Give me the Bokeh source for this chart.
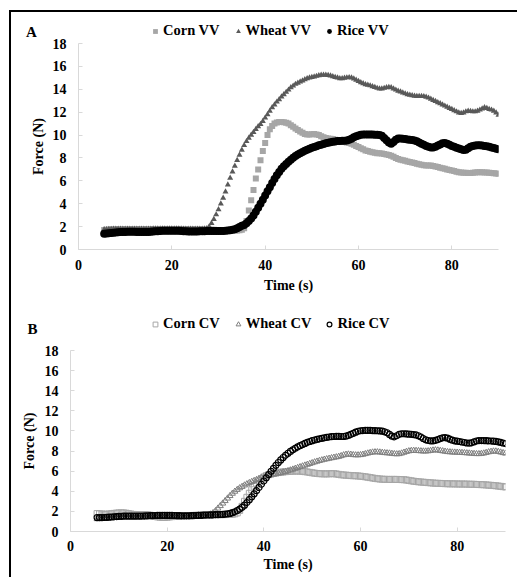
from bokeh.plotting import figure
from bokeh.models import Legend, LegendItem, Label, Range1d, FixedTicker
from bokeh.layouts import column, row
from bokeh.embed import file_html
from bokeh.resources import INLINE

# sampling times (s): every 0.5 s from 5.5 to 90
time_s = [5.5 + 0.5 * i for i in range(170)]

x_ticks = [0, 20, 40, 60, 80]
y_ticks = [0, 2, 4, 6, 8, 10, 12, 14, 16, 18]

# ---------------- Panel A (VV) ----------------
corn_vv = [
    1.70, 1.72, 1.74, 1.75, 1.76, 1.77, 1.77, 1.78, 1.78, 1.78,
    1.78, 1.78, 1.77, 1.77, 1.76, 1.76, 1.77, 1.77, 1.78, 1.78,
    1.78, 1.79, 1.79, 1.80, 1.80, 1.80, 1.80, 1.80, 1.79, 1.79,
    1.78, 1.78, 1.77, 1.77, 1.76, 1.76, 1.75, 1.75, 1.74, 1.74,
    1.74, 1.74, 1.74, 1.74, 1.73, 1.73, 1.72, 1.72, 1.71, 1.70,
    1.70, 1.69, 1.68, 1.67, 1.66, 1.65, 1.65, 1.66, 1.68, 1.72,
    1.85, 2.50, 3.40, 4.30, 5.20, 6.20, 7.00, 7.80, 8.60, 9.30,
    10.00, 10.50, 10.80, 11.00, 11.10, 11.15, 11.15, 11.12, 11.08, 11.02,
    10.85, 10.72, 10.58, 10.45, 10.32, 10.20, 10.10, 10.05, 10.05, 10.08,
    10.10, 10.05, 10.00, 9.90, 9.80, 9.75, 9.70, 9.68, 9.65, 9.60,
    9.55, 9.50, 9.45, 9.40, 9.35, 9.30, 9.25, 9.15, 9.05, 8.95,
    8.85, 8.75, 8.65, 8.60, 8.55, 8.50, 8.45, 8.42, 8.40, 8.38,
    8.35, 8.30, 8.25, 8.20, 8.10, 8.00, 7.90, 7.85, 7.80, 7.75,
    7.70, 7.65, 7.60, 7.55, 7.50, 7.45, 7.40, 7.37, 7.35, 7.35,
    7.33, 7.30, 7.25, 7.20, 7.15, 7.10, 7.05, 7.00, 6.95, 6.90,
    6.85, 6.80, 6.76, 6.72, 6.70, 6.70, 6.68, 6.68, 6.70, 6.72,
    6.74, 6.76, 6.75, 6.73, 6.72, 6.70, 6.68, 6.66, 6.65, 6.62,
]

wheat_vv = [
    1.75, 1.76, 1.77, 1.78, 1.79, 1.80, 1.80, 1.80, 1.80, 1.80,
    1.80, 1.80, 1.80, 1.79, 1.79, 1.79, 1.79, 1.80, 1.80, 1.80,
    1.80, 1.81, 1.81, 1.81, 1.81, 1.82, 1.82, 1.82, 1.82, 1.82,
    1.82, 1.82, 1.81, 1.81, 1.80, 1.80, 1.80, 1.80, 1.80, 1.80,
    1.80, 1.80, 1.80, 1.81, 1.84, 2.00, 2.30, 2.65, 3.05, 3.50,
    4.00, 4.50, 5.05, 5.65, 6.25, 6.80, 7.30, 7.80, 8.25, 8.70,
    9.10, 9.45, 9.75, 10.00, 10.25, 10.50, 10.75, 10.95, 11.20, 11.50,
    11.80, 12.10, 12.40, 12.65, 12.90, 13.10, 13.35, 13.55, 13.75, 13.95,
    14.15, 14.30, 14.45, 14.55, 14.65, 14.75, 14.85, 14.95, 15.00, 15.05,
    15.10, 15.15, 15.20, 15.25, 15.25, 15.25, 15.22, 15.18, 15.12, 15.05,
    15.00, 14.95, 14.95, 14.98, 15.02, 15.04, 15.00, 14.92, 14.82, 14.70,
    14.60, 14.50, 14.42, 14.38, 14.32, 14.25, 14.18, 14.10, 14.05, 14.05,
    14.10, 14.15, 14.18, 14.15, 14.05, 13.95, 13.85, 13.78, 13.70, 13.62,
    13.55, 13.50, 13.45, 13.42, 13.40, 13.40, 13.40, 13.38, 13.32, 13.25,
    13.15, 13.05, 12.95, 12.85, 12.75, 12.65, 12.55, 12.45, 12.35, 12.25,
    12.15, 12.05, 11.95, 11.90, 11.95, 12.05, 12.10, 12.08, 12.05, 12.05,
    12.10, 12.20, 12.30, 12.40, 12.35, 12.25, 12.20, 12.10, 11.95, 11.75,
]

rice_vv = [
    1.38, 1.40, 1.42, 1.44, 1.46, 1.48, 1.50, 1.52, 1.53, 1.54,
    1.55, 1.55, 1.55, 1.55, 1.54, 1.53, 1.52, 1.52, 1.52, 1.53,
    1.55, 1.57, 1.59, 1.60, 1.62, 1.63, 1.64, 1.64, 1.64, 1.64,
    1.64, 1.64, 1.63, 1.62, 1.60, 1.59, 1.58, 1.58, 1.58, 1.58,
    1.58, 1.59, 1.60, 1.60, 1.61, 1.61, 1.62, 1.62, 1.62, 1.62,
    1.62, 1.62, 1.63, 1.65, 1.68, 1.72, 1.78, 1.86, 1.96, 2.08,
    2.15, 2.30, 2.48, 2.70, 2.98, 3.30, 3.65, 4.00, 4.35, 4.72,
    5.10, 5.45, 5.80, 6.15, 6.48, 6.78, 7.05, 7.28, 7.48, 7.66,
    7.85, 8.02, 8.17, 8.30, 8.42, 8.53, 8.63, 8.72, 8.81, 8.89,
    8.96, 9.03, 9.10, 9.16, 9.22, 9.28, 9.33, 9.37, 9.41, 9.44,
    9.47, 9.49, 9.50, 9.50, 9.52, 9.58, 9.68, 9.80, 9.90, 9.97,
    10.02, 10.04, 10.05, 10.05, 10.05, 10.04, 10.03, 10.02, 10.00, 9.95,
    9.75, 9.55, 9.35, 9.25, 9.40, 9.60, 9.70, 9.70, 9.68, 9.65,
    9.62, 9.60, 9.57, 9.52, 9.45, 9.35, 9.25, 9.15, 9.05, 8.98,
    8.92, 8.92, 8.98, 9.08, 9.18, 9.28, 9.30, 9.25, 9.15, 9.05,
    8.98, 8.90, 8.82, 8.75, 8.70, 8.72, 8.85, 8.98, 9.05, 9.08,
    9.10, 9.10, 9.08, 9.05, 9.02, 8.98, 8.92, 8.86, 8.80, 8.75,
]

# ---------------- Panel B (CV) ----------------
corn_cv = [
    1.78, 1.76, 1.74, 1.72, 1.72, 1.74, 1.77, 1.80, 1.83, 1.85,
    1.86, 1.85, 1.82, 1.78, 1.74, 1.70, 1.68, 1.67, 1.67, 1.68,
    1.68, 1.66, 1.62, 1.56, 1.50, 1.45, 1.42, 1.40, 1.40, 1.42,
    1.45, 1.48, 1.50, 1.52, 1.54, 1.55, 1.56, 1.57, 1.58, 1.59,
    1.60, 1.61, 1.62, 1.63, 1.64, 1.65, 1.66, 1.66, 1.67, 1.67,
    1.67, 1.67, 1.68, 1.68, 1.69, 1.70, 1.72, 1.76, 1.85, 2.10,
    2.50, 3.00, 3.40, 3.80, 4.15, 4.50, 4.80, 5.05, 5.25, 5.42,
    5.55, 5.65, 5.72, 5.78, 5.82, 5.86, 5.90, 5.92, 5.95, 5.97,
    5.99, 6.00, 6.01, 6.01, 6.00, 5.98, 5.95, 5.92, 5.88, 5.84,
    5.80, 5.77, 5.75, 5.74, 5.73, 5.73, 5.74, 5.75, 5.75, 5.72,
    5.68, 5.64, 5.62, 5.60, 5.58, 5.56, 5.55, 5.54, 5.52, 5.50,
    5.47, 5.44, 5.40, 5.36, 5.32, 5.28, 5.25, 5.22, 5.20, 5.19,
    5.18, 5.18, 5.18, 5.18, 5.18, 5.17, 5.16, 5.15, 5.12, 5.08,
    5.04, 5.00, 4.97, 4.94, 4.92, 4.90, 4.88, 4.86, 4.84, 4.82,
    4.80, 4.79, 4.78, 4.77, 4.76, 4.75, 4.74, 4.74, 4.73, 4.73,
    4.72, 4.72, 4.72, 4.71, 4.70, 4.70, 4.69, 4.68, 4.67, 4.66,
    4.65, 4.63, 4.61, 4.59, 4.57, 4.55, 4.52, 4.49, 4.46, 4.43,
]

wheat_cv = [
    1.25, 1.28, 1.30, 1.33, 1.36, 1.38, 1.40, 1.42, 1.44, 1.45,
    1.46, 1.46, 1.46, 1.46, 1.46, 1.46, 1.46, 1.47, 1.47, 1.48,
    1.48, 1.49, 1.50, 1.50, 1.50, 1.50, 1.50, 1.50, 1.50, 1.50,
    1.50, 1.50, 1.50, 1.50, 1.51, 1.51, 1.52, 1.52, 1.53, 1.53,
    1.54, 1.55, 1.56, 1.57, 1.58, 1.60, 1.64, 1.72, 1.85, 2.05,
    2.30, 2.55, 2.80, 3.05, 3.30, 3.55, 3.78, 3.98, 4.16, 4.32,
    4.46, 4.60, 4.72, 4.84, 4.95, 5.05, 5.15, 5.24, 5.33, 5.42,
    5.50, 5.57, 5.63, 5.68, 5.73, 5.78, 5.83, 5.89, 5.95, 6.02,
    6.10, 6.18, 6.26, 6.34, 6.42, 6.50, 6.58, 6.66, 6.74, 6.82,
    6.90, 6.97, 7.04, 7.10, 7.16, 7.21, 7.26, 7.31, 7.36, 7.40,
    7.45, 7.52, 7.60, 7.66, 7.68, 7.66, 7.62, 7.60, 7.60, 7.62,
    7.66, 7.72, 7.78, 7.84, 7.88, 7.90, 7.90, 7.88, 7.85, 7.82,
    7.80, 7.78, 7.75, 7.72, 7.70, 7.72, 7.78, 7.86, 7.94, 8.00,
    8.04, 8.05, 8.04, 8.02, 8.00, 7.98, 7.98, 8.00, 8.04, 8.08,
    8.10, 8.08, 8.04, 8.00, 7.96, 7.92, 7.90, 7.88, 7.87, 7.86,
    7.85, 7.84, 7.82, 7.80, 7.78, 7.76, 7.74, 7.72, 7.72, 7.74,
    7.78, 7.84, 7.90, 7.95, 7.98, 7.98, 7.94, 7.88, 7.82, 7.77,
]

rice_cv = [
    1.38, 1.38, 1.38, 1.39, 1.40, 1.42, 1.44, 1.46, 1.48, 1.50,
    1.51, 1.52, 1.52, 1.52, 1.52, 1.52, 1.52, 1.52, 1.53, 1.54,
    1.55, 1.56, 1.57, 1.58, 1.59, 1.60, 1.60, 1.60, 1.60, 1.60,
    1.60, 1.60, 1.59, 1.58, 1.57, 1.56, 1.56, 1.56, 1.56, 1.57,
    1.58, 1.59, 1.60, 1.61, 1.62, 1.63, 1.64, 1.65, 1.66, 1.67,
    1.68, 1.69, 1.70, 1.72, 1.75, 1.80, 1.87, 1.96, 2.08, 2.22,
    2.40, 2.62, 2.88, 3.16, 3.45, 3.75, 4.06, 4.38, 4.70, 5.02,
    5.34, 5.66, 5.98, 6.28, 6.58, 6.86, 7.12, 7.36, 7.58, 7.78,
    7.96, 8.12, 8.27, 8.41, 8.54, 8.65, 8.76, 8.86, 8.95, 9.03,
    9.10, 9.16, 9.22, 9.27, 9.32, 9.36, 9.40, 9.43, 9.45, 9.46,
    9.46, 9.45, 9.45, 9.48, 9.55, 9.65, 9.76, 9.88, 9.97, 10.02,
    10.04, 10.05, 10.05, 10.05, 10.04, 10.03, 10.02, 10.00, 9.98, 9.92,
    9.82, 9.65, 9.48, 9.42, 9.52, 9.66, 9.72, 9.72, 9.70, 9.68,
    9.66, 9.64, 9.60, 9.52, 9.40, 9.25, 9.12, 9.05, 9.02, 9.02,
    9.06, 9.14, 9.24, 9.32, 9.34, 9.28, 9.18, 9.08, 9.02, 8.98,
    8.95, 8.90, 8.85, 8.80, 8.78, 8.82, 8.92, 9.00, 9.04, 9.04,
    9.04, 9.03, 9.02, 9.00, 8.98, 8.96, 8.92, 8.86, 8.80, 8.74,
]

for name, arr in [("corn_vv", corn_vv), ("wheat_vv", wheat_vv), ("rice_vv", rice_vv),
                  ("corn_cv", corn_cv), ("wheat_cv", wheat_cv), ("rice_cv", rice_cv)]:
    assert len(arr) == len(time_s), (name, len(arr))

labels_a = ["Corn VV", "Wheat VV", "Rice VV"]
labels_b = ["Corn CV", "Wheat CV", "Rice CV"]

FONT = "Liberation Serif"
W = 506

STYLE_A = [
    dict(marker="square", size=6, fill_color="#a6a6a6", line_color=None),
    dict(marker="triangle", size=6, fill_color="#595959", line_color=None),
    dict(marker="circle", size=8, fill_color="black", line_color=None),
]
STYLE_B = [
    dict(marker="square", size=6, fill_alpha=0, line_color="#a6a6a6", line_width=1),
    dict(marker="triangle", size=6, fill_alpha=0, line_color="#7f7f7f", line_width=1),
    dict(marker="circle", size=6, fill_alpha=0, line_color="black", line_width=1.2),
]


def style(p, xl_standoff, xa_standoff, yl_standoff, ya_standoff):
    p.grid.visible = False
    p.outline_line_color = None
    p.border_fill_alpha = 0
    p.xaxis.ticker = FixedTicker(ticks=x_ticks)
    p.yaxis.ticker = FixedTicker(ticks=y_ticks)
    p.xaxis.axis_label = "Time (s)"
    p.yaxis.axis_label = "Force (N)"
    for ax in (p.xaxis[0], p.yaxis[0]):
        ax.axis_line_color = "#d9d9d9"
        ax.axis_line_width = 1
        ax.major_tick_line_color = "#d9d9d9"
        ax.major_tick_in = 4
        ax.major_tick_out = 0
        ax.minor_tick_line_color = None
        ax.major_label_text_font = FONT
        ax.major_label_text_font_style = "bold"
        ax.major_label_text_font_size = "14px"
        ax.major_label_text_color = "black"
        ax.axis_label_text_font = FONT
        ax.axis_label_text_font_style = "bold"
        ax.axis_label_text_font_size = "14px"
        ax.axis_label_text_color = "black"
    p.xaxis.major_label_standoff = xl_standoff
    p.xaxis.axis_label_standoff = xa_standoff
    p.yaxis.major_label_standoff = yl_standoff
    p.yaxis.axis_label_standoff = ya_standoff


def header(height, panel_letter, letter_xy, labels, styles, series, legend_xy):
    h = figure(width=W, height=height, x_range=Range1d(0, W), y_range=Range1d(0, height),
               output_backend="svg", toolbar_location=None,
               x_axis_location=None, y_axis_location=None, min_border=0)
    h.outline_line_color = None
    h.grid.visible = False
    rs = []
    for st, vals in zip(styles, series):
        r = h.scatter(time_s, vals, **st)
        r.visible = False  # only used to draw the legend swatch
        rs.append(r)
    legend = Legend(
        items=[LegendItem(label=l, renderers=[r]) for l, r in zip(labels, rs)],
        location=legend_xy, orientation="horizontal",
        glyph_width=12, glyph_height=14, label_standoff=2, spacing=12,
        padding=0, margin=0, border_line_color=None, background_fill_alpha=0,
        inactive_fill_alpha=0,
        label_text_font=FONT, label_text_font_style="bold", label_text_color="black",
        label_text_font_size="14.5px", label_height=14, label_width=10,
    )
    h.add_layout(legend)
    h.add_layout(Label(x=letter_xy[0], y=letter_xy[1], text=panel_letter,
                       text_align="center", text_baseline="middle", text_font=FONT,
                       text_font_style="bold", text_font_size="15px", text_color="black"))
    return h


# ---------- header A + figure A ----------
ha = header(32, "A", (20, 13), labels_a, STYLE_A, [corn_vv, wheat_vv, rice_vv], (138, 5))

pa = figure(width=W, height=263, x_range=Range1d(0, 90), y_range=Range1d(0, 18),
            output_backend="svg", toolbar_location=None,
            min_border_left=67, min_border_right=19, min_border_top=6, min_border_bottom=51)
style(pa, 10, 5, 12, 4)
for vals, st in zip([corn_vv, wheat_vv, rice_vv], STYLE_A):
    pa.scatter(time_s, vals, **st)

# ---------- header B + figure B ----------
hb = header(41, "B", (21, 13), labels_b, STYLE_B, [corn_cv, wheat_cv, rice_cv], (138, 9))

pb = figure(width=W, height=236, x_range=Range1d(0, 90), y_range=Range1d(0, 18),
            output_backend="svg", toolbar_location=None,
            min_border_left=59, min_border_right=12, min_border_top=9, min_border_bottom=46)
style(pb, 9, 3, 12, 5)
for vals, st in zip([corn_cv, wheat_cv, rice_cv], STYLE_B):
    pb.scatter(time_s, vals, **st)

# each figure wrapped in its own row so that frames are not aligned across panels;
# figure A slightly overlaps its (transparent-bottomed) header strip
layout = column(row(ha), row(pa, margin=(-7, 0, 0, 0)), row(hb), row(pb),
                margin=(10, 0, 0, 9),
                styles={"border-left": "2px solid black", "border-top": "2px solid black"})

open("out.html", "w").write(file_html(layout, INLINE))
